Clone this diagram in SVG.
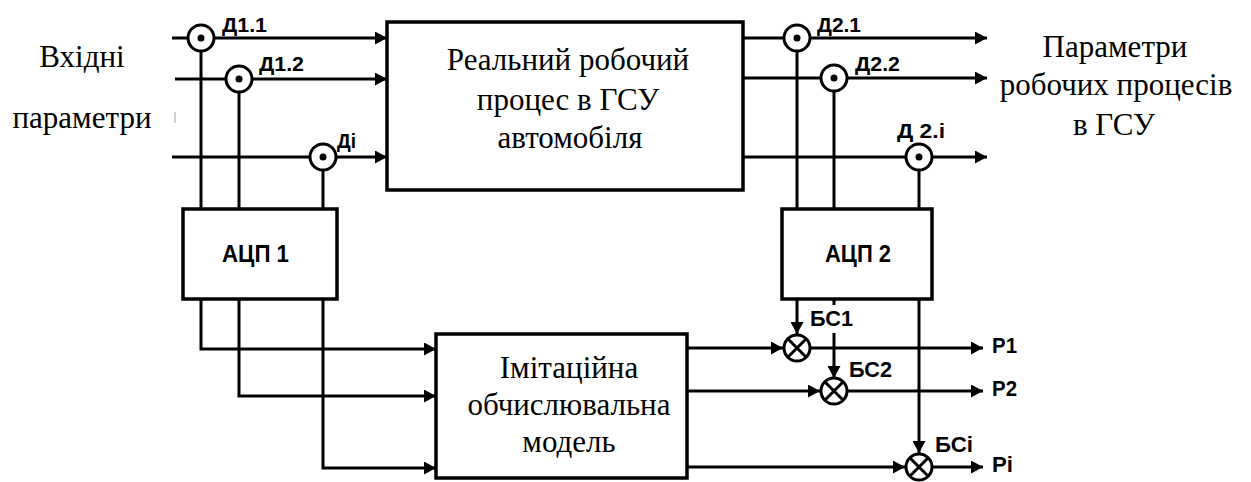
<svg xmlns="http://www.w3.org/2000/svg" width="1251" height="482" viewBox="0 0 1251 482">
<style>
.box{fill:#fff;stroke:#000;stroke-width:3.5}
.ln{fill:none;stroke:#000;stroke-width:3}
.arr{fill:none;stroke:#000;stroke-width:3;marker-end:url(#ah)}
.sens{fill:#fff;stroke:#000;stroke-width:3}
.dot{fill:#000}
.mul{fill:#fff;stroke:#000;stroke-width:3}
.x{stroke:#000;stroke-width:3}
.serif{font-family:'Liberation Serif','DejaVu Serif',serif;font-size:31px;fill:#000;text-anchor:middle}
.lab{font-family:'Liberation Sans',sans-serif;font-weight:bold;font-size:19.5px;fill:#000}
.adc{font-family:'Liberation Sans',sans-serif;font-weight:bold;font-size:24px;fill:#000}
.bs{font-family:'Liberation Sans',sans-serif;font-weight:bold;font-size:22px;fill:#000}
</style>
<defs>
<marker id="ah" markerUnits="userSpaceOnUse" markerWidth="13" markerHeight="13" refX="12" refY="6.5" orient="auto">
<path d="M0,0 L12,6.5 L0,13 z" fill="#000"/>
</marker>
</defs>
<rect width="1251" height="482" fill="#fff"/>

<g id="connectors">
<line class="arr" x1="172" y1="38" x2="387" y2="38"/>
<line class="arr" x1="175" y1="79" x2="387" y2="79"/>
<line class="arr" x1="172" y1="157" x2="387" y2="157"/>
<line class="ln" x1="201" y1="38" x2="201" y2="209"/>
<line class="ln" x1="239" y1="79" x2="239" y2="209"/>
<line class="ln" x1="323" y1="157" x2="323" y2="209"/>
<polyline class="arr" points="201,299 201,349 436,349"/>
<polyline class="arr" points="239,299 239,396 436,396"/>
<polyline class="arr" points="323,299 323,468 436,468"/>
<line class="arr" x1="743" y1="38" x2="987" y2="38"/>
<line class="arr" x1="743" y1="78" x2="987" y2="78"/>
<line class="arr" x1="743" y1="157" x2="987" y2="157"/>
<line class="ln" x1="797" y1="38" x2="797" y2="209"/>
<line class="ln" x1="834" y1="78" x2="834" y2="209"/>
<line class="ln" x1="919" y1="157" x2="919" y2="209"/>
<line class="arr" x1="797" y1="299" x2="797" y2="334"/>
<line class="ln" x1="834" y1="299" x2="834" y2="305"/>
<line class="arr" x1="834" y1="333" x2="834" y2="378"/>
<line class="arr" x1="919" y1="299" x2="919" y2="453"/>
<line class="arr" x1="687" y1="348" x2="783" y2="348"/>
<line class="arr" x1="687" y1="391" x2="820" y2="391"/>
<line class="arr" x1="687" y1="467" x2="905" y2="467"/>
<line class="arr" x1="811" y1="348" x2="983" y2="348"/>
<line class="arr" x1="848" y1="391" x2="983" y2="391"/>
<line class="arr" x1="933" y1="467" x2="983" y2="467"/>
<line x1="175" y1="112" x2="175" y2="123" stroke="#d0d0d0" stroke-width="2"/>
</g>

<g id="real-process">
<rect class="box" x="387" y="22" width="356" height="168"/>
<text class="serif" x="568" y="70">Реальний робочий</text>
<text class="serif" x="568" y="110">процес в ГСУ</text>
<text class="serif" x="570" y="148">автомобіля</text>
</g>

<g id="model">
<rect class="box" x="436" y="334" width="251" height="144"/>
<text class="serif" x="569" y="378">Імітаційна</text>
<text class="serif" x="569" y="415">обчислювальна</text>
<text class="serif" x="569" y="452">модель</text>
</g>

<g id="adc1">
<rect class="box" x="183" y="209" width="154" height="90"/>
<text class="adc" x="222" y="262" textLength="67" lengthAdjust="spacingAndGlyphs">АЦП 1</text>
</g>

<g id="adc2">
<rect class="box" x="782" y="209" width="150" height="90"/>
<text class="adc" x="825" y="262" textLength="66" lengthAdjust="spacingAndGlyphs">АЦП 2</text>
</g>

<g id="inputs-label">
<text class="serif" x="82" y="67">Вхідні</text>
<text class="serif" x="82" y="128">параметри</text>
</g>

<g id="outputs-label">
<text class="serif" x="1115" y="57">Параметри</text>
<text class="serif" x="1116" y="95">робочих процесів</text>
<text class="serif" x="1114" y="135">в ГСУ</text>
</g>

<g id="sensor-d11">
<circle class="sens" cx="201" cy="38" r="13"/><circle class="dot" cx="201" cy="38" r="3.5"/>
<text class="lab" x="222" y="32" textLength="45" lengthAdjust="spacingAndGlyphs">Д1.1</text>
</g>
<g id="sensor-d12">
<circle class="sens" cx="239" cy="79" r="13"/><circle class="dot" cx="239" cy="79" r="3.5"/>
<text class="lab" x="259" y="71" textLength="45" lengthAdjust="spacingAndGlyphs">Д1.2</text>
</g>
<g id="sensor-di">
<circle class="sens" cx="323" cy="157" r="13"/><circle class="dot" cx="323" cy="157" r="3.5"/>
<text class="lab" x="337" y="148" textLength="19" lengthAdjust="spacingAndGlyphs">Дi</text>
</g>
<g id="sensor-d21">
<circle class="sens" cx="797" cy="38" r="13"/><circle class="dot" cx="797" cy="38" r="3.5"/>
<text class="lab" x="817" y="32" textLength="44" lengthAdjust="spacingAndGlyphs">Д2.1</text>
</g>
<g id="sensor-d22">
<circle class="sens" cx="834" cy="78" r="13"/><circle class="dot" cx="834" cy="78" r="3.5"/>
<text class="lab" x="855" y="71" textLength="45" lengthAdjust="spacingAndGlyphs">Д2.2</text>
</g>
<g id="sensor-d2i">
<circle class="sens" cx="919" cy="157" r="13"/><circle class="dot" cx="919" cy="157" r="3.5"/>
<text class="lab" x="897" y="138" textLength="48" lengthAdjust="spacingAndGlyphs">Д 2.i</text>
</g>

<g id="bs1">
<circle class="mul" cx="797" cy="348" r="13"/>
<path class="x" d="M788,339 L806,357 M806,339 L788,357"/>
<text class="bs" x="810" y="326" textLength="43" lengthAdjust="spacingAndGlyphs">БС1</text>
</g>
<g id="bs2">
<circle class="mul" cx="834" cy="391" r="13"/>
<path class="x" d="M825,382 L843,400 M843,382 L825,400"/>
<text class="bs" x="849" y="377" textLength="43" lengthAdjust="spacingAndGlyphs">БС2</text>
</g>
<g id="bsi">
<circle class="mul" cx="919" cy="467" r="13"/>
<path class="x" d="M910,458 L928,476 M928,458 L910,476"/>
<text class="bs" x="935" y="452" textLength="38" lengthAdjust="spacingAndGlyphs">БСi</text>
</g>

<g id="out-labels">
<text class="bs" x="992" y="353" textLength="25" lengthAdjust="spacingAndGlyphs">Р1</text>
<text class="bs" x="992" y="396" textLength="25" lengthAdjust="spacingAndGlyphs">Р2</text>
<text class="bs" x="992" y="472" textLength="21" lengthAdjust="spacingAndGlyphs">Рi</text>
</g>
</svg>
